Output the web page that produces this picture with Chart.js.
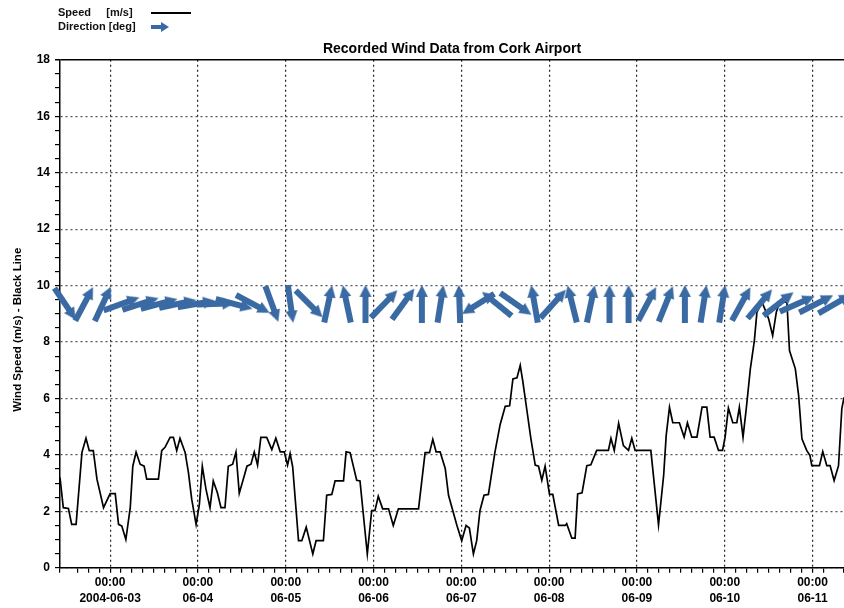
<!DOCTYPE html>
<html>
<head>
<meta charset="utf-8">
<script src="https://cdn.jsdelivr.net/npm/chart.js@4.4.1/dist/chart.umd.min.js"></script>
<style>
  body { margin: 0; background: #fff; }
  #wrap { position: relative; width: 844px; height: 608px; }
  #legend { position: absolute; left: 58px; top: 5px; font: bold 11px "Liberation Sans", Arial, sans-serif; color: #111; line-height: 14px; }
  #legend td { padding: 0 3px 0 0; }
  .lline { display: inline-block; width: 40px; height: 2px; background: #000; vertical-align: middle; margin-left: 12px; }
  .larrow { display: inline-block; position: relative; width: 18px; height: 10px; vertical-align: middle; margin-left: 12px; }
  .larrow:before { content: ""; position: absolute; left: 0; top: 3px; width: 11px; height: 4px; background: #3a6aa3; }
  .larrow:after { content: ""; position: absolute; left: 10px; top: 0; border-left: 8px solid #3a6aa3; border-top: 5px solid transparent; border-bottom: 5px solid transparent; }
</style>
</head>
<body>
<div id="wrap">
  <canvas id="myChart" width="844" height="608"></canvas>
  <table id="legend" cellspacing="0" cellpadding="0">
    <tr><td>Speed&nbsp;&nbsp;&nbsp;&nbsp;&nbsp;[m/s]</td><td><span class="lline"></span></td></tr>
    <tr><td>Direction [deg]</td><td><span class="larrow"></span></td></tr>
  </table>
</div>
<script>
// hours counted from 2004-06-03 00:00
var dayLabels = ['2004-06-03', '06-04', '06-05', '06-06', '06-07', '06-08', '06-09', '06-10', '06-11'];

// wind speed [m/s]
var speedHours = [
  -13.7, -12.8, -11.4, -10.5, -9.3, -7.7, -6.6, -5.7, -4.6, -3.6, -1.8, 0, 1.4, 2.3, 3.2, 4.3, 5.5, 6.2, 7.1, 8.2,
  9.3, 10.0, 13.2, 14.1, 15.0, 16.4, 17.3, 18.2, 19.1, 20.5, 21.4, 22.3, 23.5, 24.4, 25.2, 26.2, 27.3, 28.2, 29.3, 30.3,
  31.4, 32.3, 33.5, 34.4, 35.3, 36.4, 37.4, 38.5, 39.4, 40.3, 41.2, 42.8, 44.2, 45.3, 46.5, 47.6, 48.5, 49.2, 49.9, 51.5,
  52.4, 53.6, 55.4, 56.3, 58.3, 59.2, 60.6, 61.5, 63.8, 64.5, 65.6, 67.4, 68.3, 70.3, 71.5, 72.4, 73.3, 74.5, 76.1, 77.4,
  78.8, 84.3, 86.1, 87.3, 88.2, 89.1, 90.2, 91.6, 92.5, 94.8, 96.1, 97.3, 98.2, 99.3, 100.2, 101.1, 102.2, 103.4, 105.2, 106.6,
  108.0, 109.2, 110.1, 111.2, 112.1, 112.8, 113.9, 115.0, 116.2, 117.1, 118.0, 118.9, 120.1, 121.0, 122.6, 124.4, 124.8, 126.2, 127.1, 127.8,
  129.0, 130.3, 131.4, 133.0, 136.2, 136.9, 137.8, 139.0, 140.3, 141.7, 142.6, 143.5, 147.8, 149.9, 151.3, 152.0, 152.9, 153.8, 155.6, 156.9,
  157.8, 159.0, 160.4, 161.8, 163.1, 164.0, 165.1, 166.3, 167.4, 168.1, 169.0, 170.2, 171.3, 172.0, 173.0, 173.9, 175.0, 176.1, 176.8, 178.2,
  179.3, 180.0, 181.1, 182.1, 183.0, 185.0, 185.7, 187.3, 188.2, 189.1, 190.4, 191.3, 191.8, 193.9, 194.8, 195.9, 196.8, 197.9, 199.1, 200.0,
  200.6
];
var speedValues = [
  3.2, 2.13, 2.1, 1.54, 1.54, 4.09, 4.59, 4.15, 4.15, 3.14, 2.13, 2.63, 2.63, 1.54, 1.48, 1.0, 2.13, 3.6, 4.1, 3.67,
  3.6, 3.14, 3.14, 4.15, 4.27, 4.62, 4.62, 4.15, 4.59, 4.09, 3.38, 2.43, 1.54, 2.25, 3.6, 2.79, 2.13, 3.08, 2.67, 2.13,
  2.13, 3.6, 3.67, 4.1, 2.64, 3.14, 3.6, 3.67, 4.1, 3.64, 4.62, 4.62, 4.19, 4.59, 4.11, 4.11, 3.64, 4.05, 3.58, 0.96,
  0.96, 1.44, 0.49, 0.96, 0.96, 2.57, 2.6, 3.08, 3.08, 4.11, 4.08, 3.1, 3.08, 0.49, 2.03, 2.03, 2.53, 2.09, 2.09, 1.5,
  2.09, 2.09, 4.08, 4.08, 4.55, 4.11, 4.11, 3.52, 2.57, 1.5, 0.96, 1.5, 1.41, 0.49, 0.96, 2.03, 2.57, 2.6, 4.11, 5.07,
  5.72, 5.74, 6.69, 6.73, 7.17, 6.61, 5.6, 4.59, 3.64, 3.6, 3.1, 3.6, 2.6, 2.6, 1.5, 1.5, 1.56, 1.05, 1.05, 2.62,
  2.66, 3.62, 3.65, 4.16, 4.16, 4.59, 4.16, 5.12, 4.33, 4.16, 4.59, 4.16, 4.16, 1.52, 3.27, 4.69, 5.69, 5.14, 5.14, 4.63,
  5.14, 4.63, 4.63, 5.69, 5.69, 4.63, 4.63, 4.16, 4.16, 4.63, 5.66, 5.14, 5.14, 5.69, 4.63, 5.66, 7.05, 8.05, 9.06, 9.41,
  9.06, 8.82, 8.23, 9.06, 9.41, 9.41, 7.7, 7.05, 6.1, 4.57, 4.16, 3.98, 3.62, 3.62, 4.12, 3.62, 3.62, 3.09, 3.62, 5.63,
  6.04
];

// direction arrows: time of each arrow and heading in degrees (0 = up, clockwise)
var arrowHours = [
  -12.3, -7.1, -2.0, 3.1, 8.3, 13.4, 18.5, 23.6, 28.8, 33.9, 39.0, 44.2, 49.3, 54.4, 59.6, 64.7, 69.8, 74.9, 80.1, 85.2, 90.3,
  95.5, 100.6, 105.7, 110.9, 116.0, 121.1, 126.3, 131.4, 136.5, 141.7, 146.8, 151.9, 157.1, 162.2, 167.3, 172.5, 177.6, 182.7, 187.8, 193.0, 198.1
];
var arrowDirection = [
  146, 28, 25, 70, 72, 75, 78, 80, 88, 105, 118, 160, 172, 135, 12, 348, 0, 44, 36, 0, 9,
  358, 238, 309, 125, 350, 42, 346, 12, 0, 0, 28, 22, 0, 9, 9, 29, 40, 52, 66, 63, 60
];
var ARROW_LEVEL = 9.35;

var BLUE = '#3a6aa3';
var FONT = '"Liberation Sans", Arial, sans-serif';
var NARROW = '"Liberation Sans Narrow", "Arial Narrow", "Liberation Sans", Arial, sans-serif';

function makeArrow() {
  var c = document.createElement('canvas');
  c.width = 14; c.height = 38;
  var g = c.getContext('2d');
  g.fillStyle = BLUE;
  g.fillRect(4, 9, 6, 29);
  g.beginPath();
  g.moveTo(7, 0); g.lineTo(13, 12); g.lineTo(1, 12);
  g.closePath(); g.fill();
  return c;
}
var arrowImg = makeArrow();

function isMajor(v, step) {
  return Math.abs(v / step - Math.round(v / step)) < 1e-6;
}

window.onload = function() {
  var ctx = document.getElementById('myChart').getContext('2d');
  new Chart(ctx, {
    type: 'line',
    data: {
      datasets: [{
        label: 'Speed [m/s]',
        data: speedHours.map(function(h, i) { return { x: h, y: speedValues[i] }; }),
        borderColor: '#000',
        borderWidth: 1.7,
        pointRadius: 0,
        tension: 0,
        fill: false,
        order: 2
      }, {
        label: 'Direction [deg]',
        data: arrowHours.map(function(h) { return { x: h, y: ARROW_LEVEL }; }),
        showLine: false,
        pointStyle: arrowImg,
        pointRadius: 8,
        rotation: function(c) { return arrowDirection[c.dataIndex]; },
        clip: false,
        order: 1
      }]
    },
    options: {
      responsive: false,
      animation: false,
      layout: { autoPadding: false, padding: { top: 41, right: 0, bottom: 0, left: 0 } },
      plugins: {
        legend: { display: false },
        tooltip: { enabled: false },
        title: {
          display: true,
          fullSize: false,
          text: 'Recorded Wind Data from Cork Airport',
          color: '#000',
          font: { family: FONT, size: 14, weight: 'bold' },
          padding: { top: 0, bottom: 2 }
        }
      },
      scales: {
        x: {
          type: 'linear',
          min: -13.7,
          max: 200.6,
          afterFit: function(s) { s.paddingRight = 0; s.paddingLeft = 0; },
          border: { color: '#000', width: 1.5, dash: [2, 3] },
          grid: {
            color: function(c) { return c.tick && isMajor(c.tick.value, 24) ? '#222' : 'rgba(0,0,0,0)'; },
            tickColor: '#000',
            tickLength: 5,
            lineWidth: 1.2
          },
          ticks: {
            stepSize: 3,
            autoSkip: false,
            maxRotation: 0,
            minRotation: 0,
            padding: 2,
            color: '#000',
            font: { family: NARROW, size: 12, weight: 'bold', lineHeight: 1.3 },
            callback: function(v) {
              if (!isMajor(v, 24)) return '';
              var d = dayLabels[Math.round(v / 24)];
              return d ? ['00:00', d] : '';
            }
          }
        },
        y: {
          min: 0,
          max: 18,
          afterFit: function(s) { s.width = 60; },
          border: { color: '#000', width: 1.5, dash: function(c) { return c.tick && c.tick.value === 18 ? [] : [2, 3]; } },
          grid: {
            color: function(c) {
              if (!c.tick) return 'rgba(0,0,0,0)';
              if (c.tick.value === 18) return '#000';
              return isMajor(c.tick.value, 2) ? '#555' : 'rgba(0,0,0,0)';
            },
            tickColor: '#000',
            tickLength: 5,
            lineWidth: function(c) { return c.tick && c.tick.value === 18 ? 1.5 : 1.2; }
          },
          ticks: {
            stepSize: 0.5,
            autoSkip: false,
            padding: 5,
            color: '#000',
            font: { family: FONT, size: 12, weight: 'bold' },
            callback: function(v) { return isMajor(v, 2) ? v : ''; }
          },
          title: {
            display: true,
            // trailing spaces push the centred text down, as in the original
            text: 'Wind Speed (m/s) - Black Line          ',
            color: '#000',
            font: { family: FONT, size: 11.5, weight: 'bold' },
            padding: { top: 11, bottom: 0 }
          }
        }
      }
    }
  });
};
</script>
</body>
</html>
